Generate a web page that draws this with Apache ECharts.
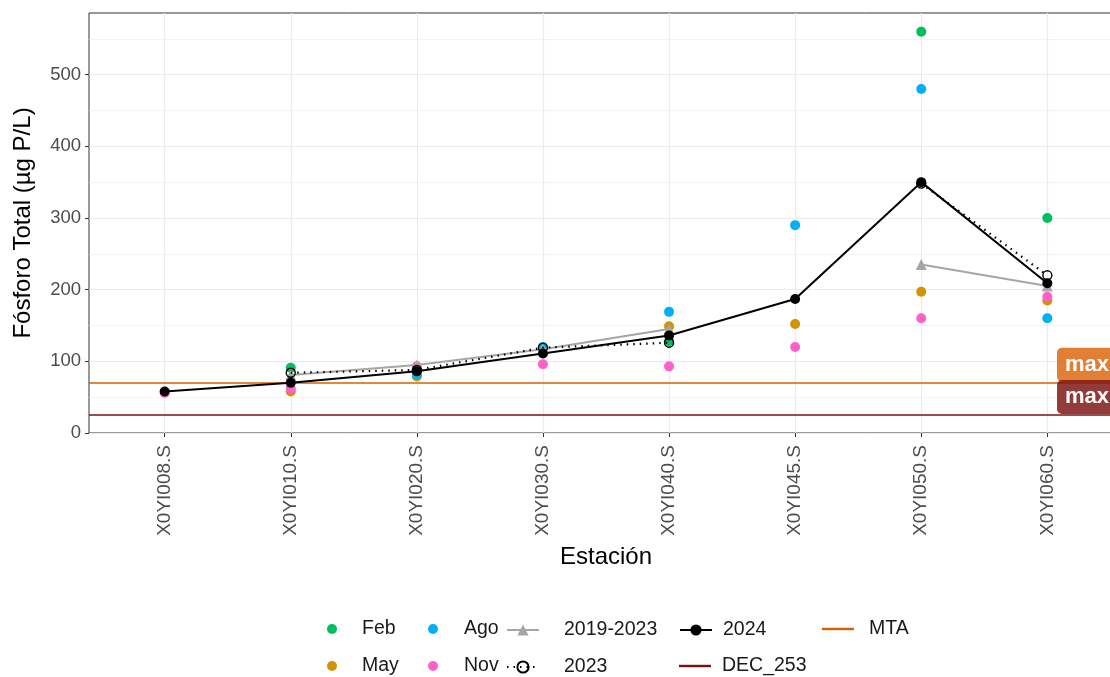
<!DOCTYPE html>
<html>
<head>
<meta charset="utf-8">
<script src="https://cdn.jsdelivr.net/npm/echarts@6/dist/echarts.min.js"></script>
<style>
html,body{margin:0;padding:0;background:#fff;overflow:hidden;width:1110px;height:677px;}
#chart{width:1123px;height:677px;}
</style>
</head>
<body>
<div id="chart"></div>
<script>
const stations = ['X0YI008.S','X0YI010.S','X0YI020.S','X0YI030.S','X0YI040.S','X0YI045.S','X0YI050.S','X0YI060.S'];
const feb = [null, 91, null, null, 128, null, 560, 300];
const may = [null, 58, 79, null, 149, 152, 197, 185];
const ago = [null, null, 81, 120, 169, 290, 480, 160];
const nov = [56, 62, 93, 96, 93, 120, 160, 190];
const hist20192023 = [null, 81, 95, 117, 145, null, 235, 205];
const y2023 = [null, 84, 88, 119, 126, null, 348, 220];
const y2024 = [58, 70, 86, 111, 136, 187, 350, 209];
const mta = 70;
const dec253 = 25;
const yMajor = [0, 100, 200, 300, 400, 500];
const yMinor = [50, 150, 250, 350, 450, 550];

const FONT = '"Liberation Sans", Arial, Helvetica, sans-serif';
const xIdx = stations.map((s, i) => i);
const pts = arr => arr.map((v, i) => [i, v]);

const scat = (name, color, arr) => ({
  name, type: 'scatter', data: pts(arr).filter(p => p[1] != null),
  symbol: 'circle', symbolSize: 10, itemStyle: {color, opacity: 1}, z: 3, silent: true
});

const txt = pad => ({fontFamily: FONT, fontSize: 19.5, color: '#1a1a1a', padding: [0, 0, 0, pad]});
const legendItem = (name, left, top, opts) => Object.assign({
  data: [name], left, top, orient: 'horizontal', selectedMode: false,
  itemWidth: 32, itemHeight: 14
}, opts || {});

const chart = echarts.init(document.getElementById('chart'), null, {renderer: 'canvas'});
chart.setOption({
  animation: false,
  backgroundColor: '#fff',
  textStyle: {fontFamily: FONT},
  grid: {left: 89, top: 13, right: 0, bottom: 244, show: true, borderColor: '#333', borderWidth: 1, containLabel: false},
  xAxis: {
    type: 'value', min: -0.6, max: 7.6,
    name: 'Estación', nameLocation: 'middle', nameGap: 112,
    nameTextStyle: {fontSize: 24, color: '#000', fontFamily: FONT},
    axisLine: {show: false, onZero: false},
    axisTick: {show: true, length: 4, lineStyle: {color: '#333', width: 1}, customValues: xIdx},
    axisLabel: {customValues: xIdx, rotate: 90, margin: 12, fontSize: 19, color: '#4d4d4d', fontFamily: FONT,
      formatter: v => stations[Math.round(v)] || ''},
    splitLine: {show: true, lineStyle: {color: '#ebebeb', width: 1.2}}
  },
  yAxis: [{
    type: 'value', min: 0, max: 586,
    name: 'Fósforo Total (µg P/L)', nameLocation: 'middle', nameGap: 54,
    nameTextStyle: {fontSize: 24, color: '#000', fontFamily: FONT},
    axisLine: {show: false, onZero: false},
    axisTick: {show: true, length: 4, lineStyle: {color: '#333', width: 1}, customValues: yMajor},
    axisLabel: {customValues: yMajor, margin: 8, fontSize: 18.5, color: '#4d4d4d', fontFamily: FONT},
    splitLine: {show: true, lineStyle: {color: '#ebebeb', width: 1.2}}
  }, {
    type: 'value', min: 0, max: 586, position: 'left',
    axisLine: {show: false, onZero: false},
    axisTick: {show: false, customValues: yMinor},
    axisLabel: {show: false, customValues: yMinor},
    splitLine: {show: true, lineStyle: {color: '#f0f0f0', width: 0.8}}
  }],
  legend: [
    legendItem('Feb', 322, 614, {itemWidth: 20, itemHeight: 10, textStyle: txt(15)}),
    legendItem('May', 322, 651, {itemWidth: 20, itemHeight: 10, textStyle: txt(15)}),
    legendItem('Ago', 423, 614, {itemWidth: 20, itemHeight: 10, textStyle: txt(16)}),
    legendItem('Nov', 423, 651, {itemWidth: 20, itemHeight: 10, textStyle: txt(16)}),
    legendItem('2019-2023', 501, 615, {textStyle: txt(20)}),
    legendItem('2023', 501, 652, {textStyle: txt(20)}),
    legendItem('2024', 674, 615, {textStyle: txt(6)}),
    legendItem('DEC_253', 674, 651, {data: [{name: 'DEC_253', icon: 'rect'}], itemHeight: 2.4, textStyle: txt(6)}),
    legendItem('MTA', 817, 614, {data: [{name: 'MTA', icon: 'rect'}], itemHeight: 2.4, textStyle: txt(10)})
  ],
  series: [
    {
      name: 'MTA', type: 'line', data: [], symbol: 'none', z: 2,
      lineStyle: {color: '#D95F02', width: 1.6}, itemStyle: {color: '#D95F02'},
      markLine: {
        silent: true, symbol: 'none',
        lineStyle: {color: '#D95F02', width: 1.6, type: 'solid'},
        label: {show: true, position: 'insideEndTop', align: 'left', distance: [66, 1],
          formatter: 'max 70', color: '#fff', fontWeight: 'bold', fontSize: 22, fontFamily: FONT,
          backgroundColor: 'rgba(217,95,2,0.8)', padding: [6, 8, 6, 8], borderRadius: 5},
        data: [{yAxis: mta}]
      }
    },
    {
      name: 'DEC_253', type: 'line', data: [], symbol: 'none', z: 2,
      lineStyle: {color: '#7A1010', width: 1.6}, itemStyle: {color: '#7A1010'},
      markLine: {
        silent: true, symbol: 'none',
        lineStyle: {color: '#7A1010', width: 1.6, type: 'solid'},
        label: {show: true, position: 'insideEndTop', align: 'left', distance: [66, 1],
          formatter: 'max 25', color: '#fff', fontWeight: 'bold', fontSize: 22, fontFamily: FONT,
          backgroundColor: 'rgba(122,16,16,0.82)', padding: [6, 8, 6, 8], borderRadius: 5},
        data: [{yAxis: dec253}]
      }
    },
    scat('Feb', '#00BF60', feb),
    scat('May', '#D39200', may),
    scat('Ago', '#00B0F6', ago),
    scat('Nov', '#FF61C9', nov),
    {
      name: '2019-2023', type: 'line', data: pts(hist20192023), connectNulls: false,
      symbol: 'triangle', symbolSize: 11, z: 4, silent: true,
      lineStyle: {color: '#A6A6A6', width: 2}, itemStyle: {color: '#A6A6A6'}
    },
    {
      name: '2023', type: 'line', data: pts(y2023), connectNulls: false,
      symbol: 'circle', symbolSize: 9, z: 5, silent: true,
      lineStyle: {color: '#000', width: 2.2, type: [1.5, 5]},
      itemStyle: {color: 'rgba(0,0,0,0)', borderColor: '#000', borderWidth: 1.4}
    },
    {
      name: '2024', type: 'line', data: pts(y2024),
      symbol: 'circle', symbolSize: 10, z: 6, silent: true,
      lineStyle: {color: '#000', width: 2}, itemStyle: {color: '#000'}
    }
  ]
});
</script>
</body>
</html>
